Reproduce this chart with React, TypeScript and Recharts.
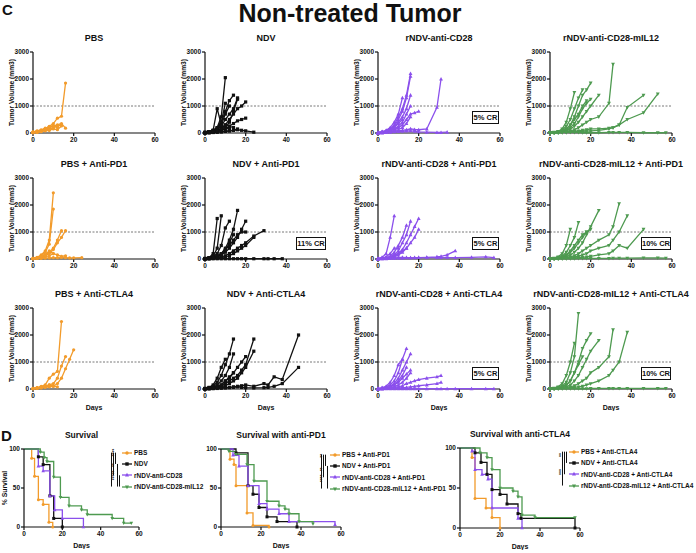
import React from 'react';
import { ScatterChart, Scatter, LineChart, Line, XAxis, YAxis, ReferenceLine, Legend } from 'recharts';

const FONT = '"Liberation Sans", Arial, sans-serif';
const ORANGE = '#F29B2B';
const BLACK = '#111111';
const PURPLE = '#8B50EC';
const GREEN = '#4E9A50';

// measurement days shared by every mouse (volume i belongs to DAYS[i])
const DAYS = [0, 2, 4, 6, 8, 10, 12, 14, 16, 18, 20, 24, 29, 31, 34, 38, 46, 53, 57];
const X_TICKS = [0, 20, 40, 60];
const VOL_TICKS = [0, 1000, 2000, 3000];
const SURV_TICKS = [0, 50, 100];

// tumor volumes (mm3), one row per mouse
const pbsMice = [
  [30, 60, 100, 150, 250, 350, 550, 620, 1850],
  [20, 50, 90, 130, 200, 260, 300, 350, 180],
  [40, 80, 120, 180, 230, 280, 200],
  [10, 30, 60, 100, 150, 180],
  [20, 40, 70, 120, 160, 200, 250, 300],
  [30, 60, 90, 130, 110],
  [10, 20, 50, 80, 100, 150, 120, 260],
];
const ndvMice = [
  [20, 40, 80, 200, 600, 2050],
  [20, 50, 100, 900, 300, 200, 150],
  [20, 30, 60, 150, 400, 800, 1200, 1400],
  [10, 40, 80, 120, 250, 500, 700, 900, 1300],
  [10, 20, 40, 80, 150, 300, 500, 700, 900, 1000, 1150],
  [10, 20, 30, 60, 100, 150, 250, 350, 450, 500, 550],
  [5, 10, 20, 30, 50, 60, 80, 100, 120, 100, 80, 30],
  [20, 50, 100, 200, 400, 1100],
  [10, 30, 60, 150, 300, 700, 1000],
  [20, 40, 60, 100, 150, 200, 400, 800, 1250],
  [10, 10, 20, 30, 40, 60, 80, 100, 150],
  [10, 20, 50, 80, 150, 300, 250, 200],
];
const cd28Mice = [
  [20, 50, 100, 200, 400, 700, 1300],
  [20, 40, 80, 150, 300, 600, 900, 1400, 2200],
  [10, 30, 60, 120, 250, 500, 800, 1300, 2100],
  [10, 20, 50, 100, 200, 400, 600, 900, 1400],
  [10, 20, 40, 80, 150, 250, 400, 700, 1000],
  [5, 10, 30, 60, 100, 200, 300, 500, 700, 750, 800],
  [5, 10, 20, 40, 60, 80, 100, 120, 150, 130, 120, 150, 950, 2000],
  [5, 10, 20, 30, 40, 50, 60, 70, 80, 60, 40, 30, 20, 20, 30],
  [10, 20, 30, 50, 80, 120, 200, 350, 600],
  [10, 30, 60, 100, 200, 350, 500],
];
const il12Mice = [
  [10, 30, 60, 150, 400, 900, 1500],
  [10, 20, 40, 100, 250, 500, 900, 1300, 1600],
  [10, 20, 30, 60, 150, 300, 600, 1000, 1400, 1600, 1850],
  [10, 20, 30, 50, 100, 200, 350, 600, 900, 1100, 1250],
  [5, 10, 20, 40, 80, 150, 250, 400, 600, 800, 1000, 1400],
  [5, 10, 20, 30, 50, 80, 120, 200, 300, 400, 500, 600, 1100, 2550],
  [5, 10, 15, 20, 30, 40, 60, 80, 100, 120, 150, 150, 180, 200, 300, 950, 1400],
  [5, 10, 15, 20, 25, 30, 40, 50, 60, 70, 80, 100, 150, 200, 300, 500, 750, 1450],
  [5, 10, 10, 20, 20, 30, 20, 20, 10, 10, 10, 10, 20, 20, 20, 20, 10, 10, 10],
  [10, 20, 40, 80, 150, 300, 500, 700, 1000, 1200],
];
const pbsPd1Mice = [
  [20, 60, 150, 300, 700, 2450],
  [20, 50, 100, 250, 550, 1850],
  [10, 30, 80, 150, 250, 400, 700, 1050],
  [10, 30, 60, 120, 200, 350, 600, 800, 1050],
  [10, 20, 40, 80, 120, 200, 150, 100, 120],
  [10, 20, 20, 30, 40, 50, 50, 60, 50, 40, 40, 50],
  [20, 40, 80, 150, 300, 200],
];
const ndvPd1Mice = [
  [20, 50, 200, 1500],
  [20, 40, 100, 400, 1600],
  [10, 30, 80, 200, 500, 1150, 1400],
  [10, 20, 50, 100, 200, 400, 700, 1100, 1800],
  [10, 20, 40, 80, 150, 250, 400, 600, 800, 1100, 1400],
  [10, 20, 30, 50, 80, 120, 200, 300, 400, 500, 600, 850, 1050],
  [5, 10, 20, 30, 50, 80, 120, 200, 300, 400, 500, 800],
  [5, 5, 10, 10, 10, 10, 10, 10, 10, 10, 10, 10, 10, 10, 10, 10],
  [10, 20, 40, 80, 150, 300, 600, 900],
  [10, 30, 60, 100, 200, 350, 500, 700, 900, 1000, 1000],
];
const cd28Pd1Mice = [
  [20, 60, 200, 800, 1600],
  [10, 30, 80, 200, 400, 400],
  [10, 20, 50, 100, 250, 500, 800, 1250],
  [10, 20, 40, 80, 150, 300, 600, 900, 1400],
  [10, 20, 30, 60, 100, 200, 350, 600, 900, 1200, 1500],
  [10, 20, 30, 50, 80, 150, 250, 400, 600, 800, 1100],
  [5, 10, 20, 30, 40, 50, 60, 50, 40, 40, 50, 60, 80, 100, 150, 300],
  [5, 10, 10, 20, 20, 30, 30, 40, 40, 50, 50, 50, 50, 50, 50, 50, 60, 80, 50],
  [10, 20, 40, 80, 150, 200, 300, 400],
];
const il12Pd1Mice = [
  [10, 30, 80, 200, 500, 1100],
  [10, 20, 50, 100, 250, 500, 800, 1350],
  [10, 20, 30, 60, 120, 250, 400, 600, 800, 1000, 1100],
  [10, 20, 30, 50, 80, 150, 250, 400, 600, 900, 1200, 1800],
  [5, 10, 20, 30, 50, 80, 120, 200, 300, 400, 500, 700, 900, 1200, 2050],
  [5, 10, 15, 20, 30, 50, 80, 100, 150, 200, 300, 400, 500, 700, 1000, 1600],
  [5, 10, 15, 20, 25, 30, 40, 50, 60, 80, 100, 150, 200, 300, 500, 400, 1100],
  [5, 5, 10, 10, 10, 10, 10, 20, 20, 20, 20, 20, 20, 30, 30, 30, 40, 40, 30],
  [10, 20, 40, 80, 150, 300, 500, 700, 900, 1000],
];
const pbsCtla4Mice = [
  [20, 50, 100, 150, 400, 550, 650, 2500],
  [10, 30, 60, 100, 150, 200, 400, 850, 1200],
  [10, 20, 40, 60, 80, 100, 200, 400, 750, 1100, 1450],
  [10, 30, 50, 80, 100, 120],
  [20, 40, 60, 100, 150, 100, 80],
];
const ndvCtla4Mice = [
  [20, 60, 150, 400, 800, 1100],
  [20, 50, 100, 250, 500, 900, 1300, 1850],
  [10, 30, 60, 150, 300, 500, 800, 1300],
  [10, 20, 40, 80, 150, 300, 450, 600, 800, 1000, 1200],
  [10, 20, 30, 60, 100, 200, 300, 400, 500, 700, 900, 1850],
  [10, 20, 30, 50, 80, 120, 200, 300, 400, 600, 800, 1400],
  [5, 10, 20, 30, 40, 50, 60, 80, 100, 120, 150, 100, 200, 150, 450, 350, 2000],
  [5, 10, 15, 20, 30, 40, 50, 60, 80, 60, 50, 40, 50, 60, 100, 200, 800],
  [10, 20, 40, 80, 150, 300, 400, 600],
];
const cd28Ctla4Mice = [
  [20, 50, 100, 250, 500, 900, 1100, 1500],
  [10, 30, 80, 150, 300, 600, 1100],
  [10, 20, 50, 100, 200, 400, 700, 1000, 1300],
  [10, 20, 40, 80, 150, 250, 400, 550, 700],
  [5, 10, 20, 30, 50, 80, 120, 200, 250, 300, 350, 400, 450, 500],
  [5, 10, 15, 20, 30, 40, 50, 60, 80, 100, 120, 150, 200, 250],
  [10, 20, 40, 80, 150, 300, 500, 800],
  [5, 10, 20, 40, 80, 150, 250, 400, 600],
  [5, 5, 5, 10, 10, 10, 10, 10, 10, 10, 10, 10, 10, 10, 10, 10, 10, 10, 10],
];
const il12Ctla4Mice = [
  [10, 30, 80, 200, 500, 1000, 1700],
  [10, 20, 50, 100, 250, 600, 1200, 2800],
  [10, 20, 30, 60, 150, 300, 600, 1000, 1500, 1800, 2050],
  [10, 20, 30, 50, 80, 150, 300, 500, 800, 1100, 1400, 1800],
  [5, 10, 20, 30, 50, 80, 120, 200, 300, 400, 600, 800, 1200, 2200],
  [5, 10, 15, 20, 30, 40, 60, 80, 100, 150, 200, 300, 500, 700, 1000, 2100],
  [5, 5, 10, 10, 10, 10, 10, 10, 10, 10, 20, 20, 20, 20, 20, 20, 20, 20, 20],
  [10, 20, 40, 80, 150, 300, 600, 900, 1200],
];

// survival (% alive) as [day, percent] steps
const survPbs = [[0, 100], [4, 88], [5.5, 65], [7.5, 35], [10, 29], [13, 6], [15, 0]];
const survNdv = [[0, 100], [7.5, 90], [10, 80], [13.5, 40], [15.5, 11], [20, 0]];
const survCd28 = [[0, 100], [7.5, 78], [10, 72], [13.5, 40], [16, 22], [20, 11], [31, 0]];
const survIl12 = [[0, 100], [8.5, 96], [10.5, 89], [12, 84], [15.5, 64], [19, 38], [23.5, 27], [30, 22], [33, 16], [46, 11], [52, 5], [56, 5]];

const pd1Pbs = [[0, 100], [4.5, 87], [6.5, 80], [7.5, 53], [13, 18], [16, 2], [24, 0]];
const pd1Ndv = [[0, 100], [7.5, 95], [13.5, 53], [16, 42], [19, 25], [23, 13], [28, 7], [38, 0]];
const pd1Cd28 = [[0, 100], [6, 92], [9, 78], [13.5, 53], [19, 30], [23, 23], [29, 17], [34, 7], [57, 3]];
const pd1Il12 = [[0, 100], [4, 97], [7.5, 93], [13, 80], [16.5, 59], [23, 33], [29, 27], [32, 23], [34, 17], [39, 7], [46, 4]];

const ctPbs = [[0, 100], [6, 88], [7.5, 37], [13, 25], [16, 13], [20, 0]];
const ctNdv = [[0, 100], [7.5, 94], [10.5, 82], [13.5, 67], [16, 48], [20, 42], [23.5, 30], [29, 18], [30.5, 12], [57.5, 0]];
const ctCd28 = [[0, 100], [6, 96], [7.5, 73], [11, 67], [14, 61], [16, 25], [29, 12], [31, 0]];
const ctIl12 = [[0, 100], [10, 94], [13.5, 88], [16, 73], [20, 50], [26.5, 46], [29, 39], [31, 16], [37.5, 13], [57.5, 13]];

// layout
const COL_X = [33, 205, 378, 550];
const ROW_Y = [52, 178, 308];
const Y_W = 30;
const PLOT_W = 122;
const PLOT_H = 81;

const PANELS = [
  { title: 'PBS', mice: pbsMice, color: ORANGE, kind: 'circle' },
  { title: 'NDV', mice: ndvMice, color: BLACK, kind: 'square' },
  { title: 'rNDV-anti-CD28', mice: cd28Mice, color: PURPLE, kind: 'up', cr: '5% CR' },
  { title: 'rNDV-anti-CD28-mIL12', mice: il12Mice, color: GREEN, kind: 'down' },
  { title: 'PBS + Anti-PD1', mice: pbsPd1Mice, color: ORANGE, kind: 'circle' },
  { title: 'NDV + Anti-PD1', mice: ndvPd1Mice, color: BLACK, kind: 'square', cr: '11% CR' },
  { title: 'rNDV-anti-CD28 + Anti-PD1', mice: cd28Pd1Mice, color: PURPLE, kind: 'up', cr: '5% CR' },
  { title: 'rNDV-anti-CD28-mIL12 + Anti-PD1', mice: il12Pd1Mice, color: GREEN, kind: 'down', cr: '10% CR' },
  { title: 'PBS + Anti-CTLA4', mice: pbsCtla4Mice, color: ORANGE, kind: 'circle' },
  { title: 'NDV + Anti-CTLA4', mice: ndvCtla4Mice, color: BLACK, kind: 'square' },
  { title: 'rNDV-anti-CD28 + Anti-CTLA4', mice: cd28Ctla4Mice, color: PURPLE, kind: 'up', cr: '5% CR' },
  { title: 'rNDV-anti-CD28-mIL12 + Anti-CTLA4', mice: il12Ctla4Mice, color: GREEN, kind: 'down', cr: '10% CR' },
];

const KINDS = ['circle', 'square', 'up', 'down'];
const COLORS = [ORANGE, BLACK, PURPLE, GREEN];

const SURVIVAL = [
  {
    title: 'Survival', names: ['PBS', 'NDV', 'rNDV-anti-CD28', 'rNDV-anti-CD28-mIL12'],
    data: [survPbs, survNdv, survCd28, survIl12],
    plotLeft: 24, plotW: 115, plotTop: 449, plotH: 78, legendLeft: 122, legendTop: 447, yLabel: '% Survival',
    sig: { bars: [[2, 0, 3], [4, 0, 2], [6, 0, 1], [8, 1, 3], [10, 2, 3]], stars: [['****', 0.5], ['**', 1.6], ['*****', 2.5]] },
  },
  {
    title: 'Survival with anti-PD1', names: ['PBS + Anti-PD1', 'NDV + Anti-PD1', 'rNDV-anti-CD28 + Anti-PD1', 'rNDV-anti-CD28-mIL12 + Anti-PD1'],
    data: [pd1Pbs, pd1Ndv, pd1Cd28, pd1Il12],
    plotLeft: 221, plotW: 120, plotTop: 449, plotH: 78, legendLeft: 330, legendTop: 449,
    sig: { bars: [[4, 0, 3], [6, 0, 2], [8, 0, 1], [10, 1, 3]], stars: [['**', 0.6], ['**', 1.8], ['****', 2.6]] },
  },
  {
    title: 'Survival with anti-CTLA4', names: ['PBS + Anti-CTLA4', 'NDV + Anti-CTLA4', 'rNDV-anti-CD28 + Anti-CTLA4', 'rNDV-anti-CD28-mIL12 + Anti-CTLA4'],
    data: [ctPbs, ctNdv, ctCd28, ctIl12],
    plotLeft: 460, plotW: 120, plotTop: 448, plotH: 80, legendLeft: 569, legendTop: 446,
    sig: { bars: [[6, 0, 3], [8, 0, 2], [10, 0, 1]], stars: [['**', 0.8], ['***', 2.3]] },
  },
];

const ROW_H = 11.3;

function Marker({ kind, cx, cy, fill, s }: any) {
  if (cx == null || cy == null || isNaN(cx) || isNaN(cy)) return <g />;
  if (kind === 'circle') return <circle cx={cx} cy={cy} r={s} fill={fill} />;
  if (kind === 'square') return <rect x={cx - s} y={cy - s} width={s * 2} height={s * 2} fill={fill} />;
  if (kind === 'up')
    return <polygon points={`${cx},${cy - s * 1.3} ${cx - s * 1.2},${cy + s * 0.9} ${cx + s * 1.2},${cy + s * 0.9}`} fill={fill} />;
  return <polygon points={`${cx},${cy + s * 1.3} ${cx - s * 1.2},${cy - s * 0.9} ${cx + s * 1.2},${cy - s * 0.9}`} fill={fill} />;
}

const tickStyle = { fontSize: 6.5, fontWeight: 700, fill: '#111', fontFamily: FONT };

function TumorPanel({ p, idx }: any) {
  const col = idx % 4;
  const row = Math.floor(idx / 4);
  const xH = row === 2 ? 22 : 14;
  const w = Y_W + PLOT_W + 10;
  const boxW = p.cr && p.cr.length > 5 ? 31 : 28;
  return (
    <div style={{ position: 'absolute', left: COL_X[col] - Y_W, top: ROW_Y[row] - 20 }}>
      <div
        style={{
          position: 'absolute', left: Y_W - 50, width: PLOT_W + 100, top: 0, textAlign: 'center',
          fontSize: 9, fontWeight: 700, lineHeight: '13px', whiteSpace: 'nowrap',
        }}
      >
        {p.title}
      </div>
      <div style={{ position: 'absolute', top: 14, left: 0 }}>
        <ScatterChart width={w} height={6 + PLOT_H + xH} margin={{ top: 6, right: 10, bottom: 0, left: 0 }}>
          <XAxis
            type="number" dataKey="d" domain={[0, 60]} ticks={X_TICKS} height={xH}
            tick={tickStyle} tickSize={3} tickMargin={1} stroke="#111" strokeWidth={1.2} interval={0}
            label={row === 2 ? { value: 'Days', position: 'insideBottom', offset: 1, style: { fontSize: 7, fontWeight: 700, fill: '#111' } } : undefined}
          />
          <YAxis
            type="number" dataKey="v" domain={[0, 3000]} ticks={VOL_TICKS} width={Y_W}
            tick={tickStyle} tickSize={3} tickMargin={1} stroke="#111" strokeWidth={1.2} interval={0}
            label={{ value: 'Tumor Volume (mm3)', angle: -90, position: 'insideLeft', offset: 9, style: { textAnchor: 'middle', fontSize: 6.6, fontWeight: 700, fill: '#111' } }}
          />
          <ReferenceLine y={1000} stroke="#555" strokeDasharray="2 1.5" strokeWidth={0.8} />
          {p.mice.map((m: number[], i: number) => (
            <Scatter
              key={i}
              data={m.map((v, j) => ({ d: DAYS[j], v }))}
              fill={p.color}
              line={{ stroke: p.color, strokeWidth: 1.3 }}
              lineType="joint"
              shape={(sp: any) => <Marker kind={p.kind} cx={sp.cx} cy={sp.cy} fill={p.color} s={1.6} />}
              isAnimationActive={false}
            />
          ))}
        </ScatterChart>
      </div>
      {p.cr && (
        <div
          style={{
            position: 'absolute', left: Y_W + PLOT_W - boxW, top: 20 + PLOT_H - 8 - 14, width: boxW - 3, height: 11,
            border: '1.5px solid #111', background: '#fff', fontSize: 7.5, fontWeight: 700, lineHeight: '11px', textAlign: 'center', whiteSpace: 'nowrap',
          }}
        >
          {p.cr}
        </div>
      )}
    </div>
  );
}

function mergeSurvival(series: number[][][]) {
  const days = Array.from(new Set(series.flatMap((s) => s.map((pt) => pt[0])))).sort((a, b) => a - b);
  return days.map((d) => {
    const row: any = { d };
    series.forEach((s, i) => {
      const hit = s.find((pt) => pt[0] === d);
      row['s' + i] = hit ? hit[1] : null;
    });
    return row;
  });
}

function SurvLegend({ names, sig }: any) {
  return (
    <div style={{ position: 'relative', fontFamily: FONT }}>
      <svg width={16} height={ROW_H * 4} style={{ position: 'absolute', left: -16, top: 0, overflow: 'visible' }}>
        {sig.bars.map((b: number[], i: number) => (
          <line key={i} x1={b[0] + 3.5} x2={b[0] + 3.5} y1={ROW_H * (b[1] + 0.5)} y2={ROW_H * (b[2] + 0.5)} stroke="#111" strokeWidth={1} />
        ))}
        {sig.stars.map((s: any, i: number) => (
          <text
            key={i} x={ROW_H * s[1]} y={0} fontSize={5} fontWeight={700} fill="#111" textAnchor="middle"
            transform={`translate(4, 0) rotate(90)`}
          >
            {s[0]}
          </text>
        ))}
      </svg>
      {names.map((n: string, i: number) => (
        <div key={n} style={{ display: 'flex', alignItems: 'center', height: ROW_H, whiteSpace: 'nowrap' }}>
          <svg width={10} height={8}>
            <line x1={0} y1={4} x2={10} y2={4} stroke={COLORS[i]} strokeWidth={1.3} />
            <Marker kind={KINDS[i]} cx={5} cy={4} fill={COLORS[i]} s={1.7} />
          </svg>
          <span style={{ marginLeft: 2, fontSize: 6.5, fontWeight: 700, color: '#111' }}>{n}</span>
        </div>
      ))}
    </div>
  );
}

function SurvivalPanel({ s }: any) {
  const chartLeft = s.plotLeft - 24;
  const chartTop = s.plotTop - 6;
  const xH = 22;
  const w = 250;
  const rows = mergeSurvival(s.data);
  return (
    <div style={{ position: 'absolute', left: chartLeft, top: chartTop - 14 }}>
      <div
        style={{
          position: 'absolute', left: 24 - 50, width: s.plotW + 100, top: 0, textAlign: 'center',
          fontSize: 8.5, fontWeight: 700, lineHeight: '12px', whiteSpace: 'nowrap',
        }}
      >
        {s.title}
      </div>
      <div style={{ position: 'absolute', top: 14, left: 0 }}>
        <LineChart width={w} height={6 + s.plotH + xH} data={rows} margin={{ top: 6, right: w - 24 - s.plotW, bottom: 0, left: 0 }}>
          <XAxis
            type="number" dataKey="d" domain={[0, 60]} ticks={X_TICKS} height={xH}
            tick={tickStyle} tickSize={3} tickMargin={1} stroke="#111" strokeWidth={1.2} interval={0}
            label={{ value: 'Days', position: 'insideBottom', offset: 1, style: { fontSize: 7, fontWeight: 700, fill: '#111' } }}
          />
          <YAxis
            type="number" domain={[0, 100]} ticks={SURV_TICKS} width={24}
            tick={tickStyle} tickSize={3} tickMargin={1} stroke="#111" strokeWidth={1.2} interval={0}
            label={s.yLabel ? { value: s.yLabel, angle: -90, position: 'insideLeft', offset: 5, style: { textAnchor: 'middle', fontSize: 6.8, fontWeight: 700, fill: '#111' } } : undefined}
          />
          {s.data.map((_: any, i: number) => (
            <Line
              key={i}
              dataKey={'s' + i}
              type="stepAfter"
              stroke={COLORS[i]}
              strokeWidth={1.3}
              connectNulls
              isAnimationActive={false}
              dot={(dp: any) =>
                dp.value == null || dp.payload.d === 0 ? <g key={dp.index} /> : (
                  <Marker key={dp.index} kind={KINDS[i]} cx={dp.cx} cy={dp.cy} fill={COLORS[i]} s={1.5} />
                )
              }
              activeDot={false}
            />
          ))}
          <Legend
            layout="vertical" align="center" verticalAlign="middle"
            wrapperStyle={{ left: s.legendLeft - chartLeft, top: s.legendTop - chartTop, width: 'auto', margin: 0, padding: 0 }}
            content={() => <SurvLegend names={s.names} sig={s.sig} />}
          />
        </LineChart>
      </div>
    </div>
  );
}

export default function App() {
  return (
    <div style={{ position: 'absolute', left: 0, top: 0, width: 696, height: 553, background: '#fff', fontFamily: FONT, color: '#111', overflow: 'hidden' }}>
      <div style={{ position: 'absolute', left: 2, top: 1, fontSize: 15, fontWeight: 700, lineHeight: '17px' }}>C</div>
      <div style={{ position: 'absolute', left: 0, width: 700, top: 0, textAlign: 'center', fontSize: 25, fontWeight: 700, lineHeight: '27px' }}>
        Non-treated Tumor
      </div>
      {PANELS.map((p, i) => (
        <TumorPanel key={p.title} p={p} idx={i} />
      ))}
      <div style={{ position: 'absolute', left: 1, top: 428, fontSize: 15, fontWeight: 700, lineHeight: '16px' }}>D</div>
      {SURVIVAL.map((s) => (
        <SurvivalPanel key={s.title} s={s} />
      ))}
    </div>
  );
}
